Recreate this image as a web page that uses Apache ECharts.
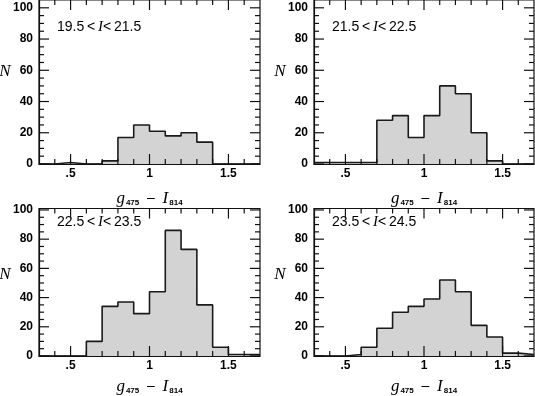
<!DOCTYPE html>
<html><head><meta charset="utf-8">
<script src="https://cdn.jsdelivr.net/npm/echarts@6/dist/echarts.min.js"></script>
<style>html,body{margin:0;padding:0;background:#fff}#c{width:535px;height:396px}</style>
</head><body><div id="c"></div>
<script>
// Histogram bins (left edges, width 0.1) in g475 - I814
const binEdges = [0.3,0.4,0.5,0.6,0.7,0.8,0.9,1.0,1.1,1.2,1.3,1.4,1.5,1.6];
const binRightEnd = 1.7;
const counts1 = [0,1,0,0,2,17,25,21,18,20,14,0,0,0];
const counts2 = [1,1,1,1,28,31,17,31,50,45,20,2,0,0];
const counts3 = [0,0,0,10,34,37,29,44,86,73,35,6,1,1];
const counts4 = [0,0,1,6,19,30,34,39,52,44,21,13,2,1];
const panelRanges = [['19.5','21.5'],['21.5','22.5'],['22.5','23.5'],['23.5','24.5']];
const xMin = 0.3, xMax = 1.7;
const xTickValues = [0.5,1,1.5];
const xTickLabels = ['.5','1','1.5'];
const xMinorTicks = [0.4,0.6,0.7,0.8,0.9,1.1,1.2,1.3,1.4,1.6];
const yTickValues = [0,20,40,60,80,100];
const yTickLabels = ['0','20','40','60','80','100'];
const yMinorTicks = [5,10,15,25,30,35,45,50,55,65,70,75,85,90,95];

const allCounts = [counts1,counts2,counts3,counts4];
const grids = [
  {left:39, top:-1, width:221, height:165, ymax:105, nameGap:26},
  {left:314, top:-1, width:220, height:165, ymax:105, nameGap:26},
  {left:39, top:208.5, width:221, height:158.5, ymax:101, nameGap:22},
  {left:314, top:208.5, width:220, height:158.5, ymax:101, nameGap:22}
];
const ink = '#111';
const tickInk = '#111';
const lineStyle = {color: ink, width: 1.2};
const tickFont = {color:'#000', fontFamily:'Liberation Sans, Arial, sans-serif', fontWeight:'bold', fontSize:12};
const MAJ = 10, MIN = 5;

// tick items: [x, y, isMajor, isYTick]
const tickData = [];
xTickValues.forEach(v => tickData.push([v, 0, 1, 0]));
xMinorTicks.forEach(v => tickData.push([v, 0, 0, 0]));
yTickValues.forEach(v => tickData.push([xMin, v, 1, 1]));
yMinorTicks.forEach(v => tickData.push([xMin, v, 0, 1]));

function renderTick(params, api) {
  const cs = params.coordSys;
  const p = api.coord([api.value(0), api.value(1)]);
  const len = api.value(2) ? MAJ : MIN;
  const style = {stroke: tickInk, lineWidth: 1.2, fill: null};
  if (!api.value(3)) {
    const x = p[0], yb = cs.y + cs.height, yt = cs.y;
    return {type:'group', children:[
      {type:'line', shape:{x1:x, y1:yb, x2:x, y2:yb - len}, style},
      {type:'line', shape:{x1:x, y1:yt, x2:x, y2:yt + len}, style}
    ]};
  }
  const y = p[1], xl = cs.x, xr = cs.x + cs.width;
  return {type:'group', children:[
    {type:'line', shape:{x1:xl, y1:y, x2:xl + len, y2:y}, style},
    {type:'line', shape:{x1:xr, y1:y, x2:xr - len, y2:y}, style}
  ]};
}

const xAxes = [], yAxes = [], series = [], graphic = [];
grids.forEach((g, i) => {
  xAxes.push({
    gridIndex:i, type:'value', min:xMin, max:xMax, splitLine:{show:false}, z:5,
    position:'bottom',
    axisLine:{show:true, onZero:false, lineStyle},
    axisTick:{show:false},
    axisLabel:Object.assign({show:true, customValues:xTickValues, margin:4,
      formatter:(v)=>{const k = xTickValues.findIndex(t=>Math.abs(t-v)<1e-9); return k>=0?xTickLabels[k]:'';}}, tickFont),
    name:'{g|g}{s|475}{m|  \u2013  }{g|I}{s|814}', nameLocation:'middle', nameGap:g.nameGap,
    nameTextStyle:{color:'#000', rich:{
      g:{fontFamily:'Liberation Serif, serif', fontStyle:'italic', fontSize:17, color:'#000'},
      s:{fontFamily:'Liberation Sans, sans-serif', fontWeight:'bold', fontSize:8, color:'#000', padding:[8,0,0,1]},
      m:{fontFamily:'Liberation Sans, sans-serif', fontSize:14, color:'#000'}
    }}
  });
  yAxes.push({
    gridIndex:i, type:'value', min:0, max:g.ymax, splitLine:{show:false}, z:5,
    position:'left', axisLine:{show:true, onZero:false, lineStyle},
    axisTick:{show:false},
    axisLabel:Object.assign({show:true, customValues:yTickValues, margin:6,
      formatter:(v)=>{const k = yTickValues.indexOf(v); return k>=0?yTickLabels[k]:'';}}, tickFont)
  });
  const counts = allCounts[i];
  const data = binEdges.map((e,k)=>[e, counts[k]]);
  data.push([binRightEnd, counts[counts.length-1]]);
  series.push({
    type:'line', xAxisIndex:i, yAxisIndex:i, step:'end', data,
    symbol:'none', lineStyle:{color:'#1a1a1a', width:1.6},
    areaStyle:{color:'#d3d3d3', opacity:1}, z:1, silent:true
  });
  series.push({
    type:'custom', coordinateSystem:'cartesian2d', xAxisIndex:i, yAxisIndex:i,
    data:tickData, renderItem:renderTick, encode:{x:0, y:1},
    clip:false, z:10, silent:true
  });
  graphic.push({type:'text', x:g.left - 34, y: (i<2 ? 72 : 275),
    style:{text:'N', font:'italic 17px "Liberation Serif", serif', fill:'#000', textAlign:'center', textVerticalAlign:'middle', align:'center', verticalAlign:'middle'}});
  const r = panelRanges[i];
  graphic.push({type:'text', x:g.left + 18, y:(i<2 ? 27 : 222),
    style:{text:'{n|'+r[0]+'\u2009<\u2009}{i|I}{n|<\u2009'+r[1]+'}',
      rich:{n:{fontFamily:'Liberation Sans, sans-serif', fontSize:14, fill:'#000'},
            i:{fontFamily:'Liberation Serif, serif', fontStyle:'italic', fontSize:15, fill:'#000'}},
      fill:'#000', textVerticalAlign:'middle', verticalAlign:'middle'}});
});

const chart = echarts.init(document.getElementById('c'), null, {renderer:'canvas'});
chart.setOption({
  animation:false,
  backgroundColor:'#fff',
  grid: grids.map(g=>({left:g.left, top:g.top, width:g.width, height:g.height, containLabel:false,
    show:true, borderColor:ink, borderWidth:1.2, backgroundColor:'transparent'})),
  xAxis: xAxes, yAxis: yAxes, series, graphic
});
</script></body></html>
